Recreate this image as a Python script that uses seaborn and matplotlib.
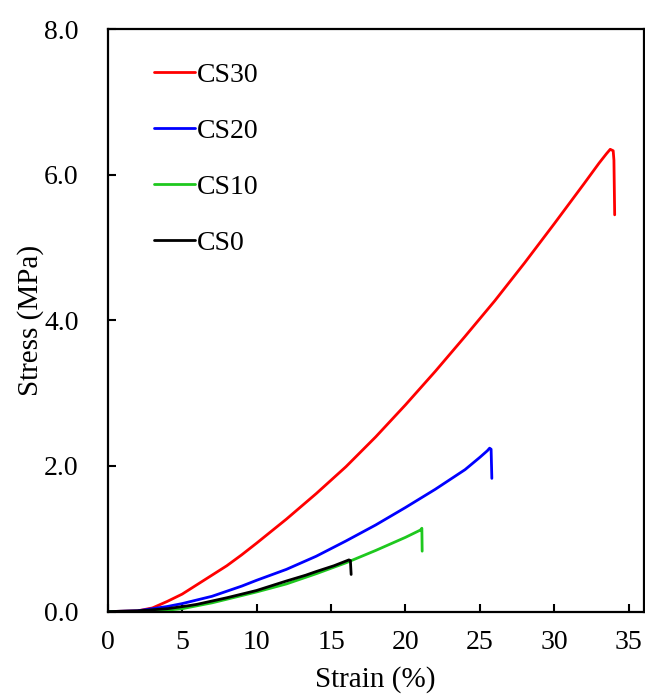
import matplotlib
matplotlib.use("Agg")
import matplotlib.pyplot as plt
import seaborn as sns
import pandas as pd
from matplotlib.ticker import FormatStrFormatter

# Data
cs30_strain = [0, 2, 3, 4, 5, 6, 7, 8, 9, 10, 12, 14, 16, 18, 20, 22, 24, 26, 28, 30, 32, 33, 33.5, 33.75, 33.95, 34.0, 34.05]
cs30_stress = [0, 0.01, 0.05, 0.14, 0.24, 0.37, 0.50, 0.63, 0.78, 0.94, 1.27, 1.62, 1.99, 2.40, 2.84, 3.30, 3.78, 4.27, 4.79, 5.33, 5.88, 6.16, 6.29, 6.35, 6.33, 6.20, 5.45]
cs20_strain = [0, 2, 3, 4, 5, 6, 7, 8, 9, 10, 12, 14, 16, 18, 20, 22, 24, 25, 25.5, 25.65, 25.75, 25.8]
cs20_stress = [0, 0.01, 0.04, 0.07, 0.11, 0.16, 0.21, 0.28, 0.35, 0.43, 0.58, 0.76, 0.97, 1.19, 1.43, 1.68, 1.95, 2.12, 2.21, 2.245, 2.23, 1.83]
cs10_strain = [0, 2, 3, 4, 5, 6, 7, 8, 9, 10, 12, 14, 16, 18, 20, 21.0, 21.1, 21.12]
cs10_stress = [0, 0.0, 0.005, 0.02, 0.04, 0.08, 0.12, 0.17, 0.22, 0.27, 0.38, 0.52, 0.67, 0.84, 1.02, 1.12, 1.145, 0.83]
cs0_strain = [0, 2, 4, 5.4, 6, 8, 10, 12, 13.3, 14, 15.2, 16.2, 16.3, 16.35]
cs0_stress = [0, 0.01, 0.04, 0.08, 0.10, 0.19, 0.29, 0.42, 0.50, 0.55, 0.63, 0.71, 0.70, 0.51]

labels = ["CS30", "CS20", "CS10", "CS0"]
colors = ["#ff0000", "#0000ff", "#1ec81e", "#000000"]
x_ticks = [0, 5, 10, 15, 20, 25, 30, 35]
y_ticks = [0, 2, 4, 6, 8]

frames = []
for lab, xs, ys in zip(labels,
                       [cs30_strain, cs20_strain, cs10_strain, cs0_strain],
                       [cs30_stress, cs20_stress, cs10_stress, cs0_stress]):
    frames.append(pd.DataFrame({"Strain": xs, "Stress": ys, "Sample": lab}))
df = pd.concat(frames, ignore_index=True)

sns.set_style("white")
plt.rcParams["font.family"] = ["Liberation Serif", "DejaVu Serif"]
plt.rcParams["text.color"] = "black"
plt.rcParams["axes.labelcolor"] = "black"
plt.rcParams["xtick.color"] = "black"
plt.rcParams["ytick.color"] = "black"
plt.rcParams["lines.solid_joinstyle"] = "round"
plt.rcParams["lines.solid_capstyle"] = "round"

fig = plt.figure(figsize=(6.45, 6.95), dpi=100)
ax = fig.add_axes([0.167, 0.120, 0.831, 0.838])

sns.lineplot(data=df, x="Strain", y="Stress", hue="Sample", hue_order=labels,
             palette=dict(zip(labels, colors)), sort=False, estimator=None,
             units="Sample", linewidth=2.0, ax=ax)

ax.set_xlim(0, 36)
ax.set_ylim(0, 8)
ax.set_xticks(x_ticks)
ax.set_yticks(y_ticks)
ax.yaxis.set_major_formatter(FormatStrFormatter("%.1f"))
ax.tick_params(axis="x", which="both", bottom=True, top=False, direction="in",
               length=6, width=1.5, pad=13, labelsize=20, colors="black")
ax.tick_params(axis="y", which="both", left=True, right=False, direction="in",
               length=6, width=1.5, pad=21, labelsize=20, colors="black")
for s in ax.spines.values():
    s.set_linewidth(1.6)
    s.set_color("black")
    s.set_visible(True)
ax.set_xlabel("Strain (%)", fontsize=21, labelpad=8, color="black")
ax.set_ylabel("Stress (MPa)", fontsize=21, labelpad=0, color="black")

leg = ax.legend(loc="upper left", bbox_to_anchor=(0.065, 0.962), frameon=False,
                fontsize=20, handlelength=1.5, handletextpad=0.05,
                labelspacing=1.1, borderaxespad=0)
for h in leg.get_lines():
    h.set_linewidth(2.0)
for t in leg.get_texts():
    t.set_color("black")

fig.savefig("out.png", dpi=100)
